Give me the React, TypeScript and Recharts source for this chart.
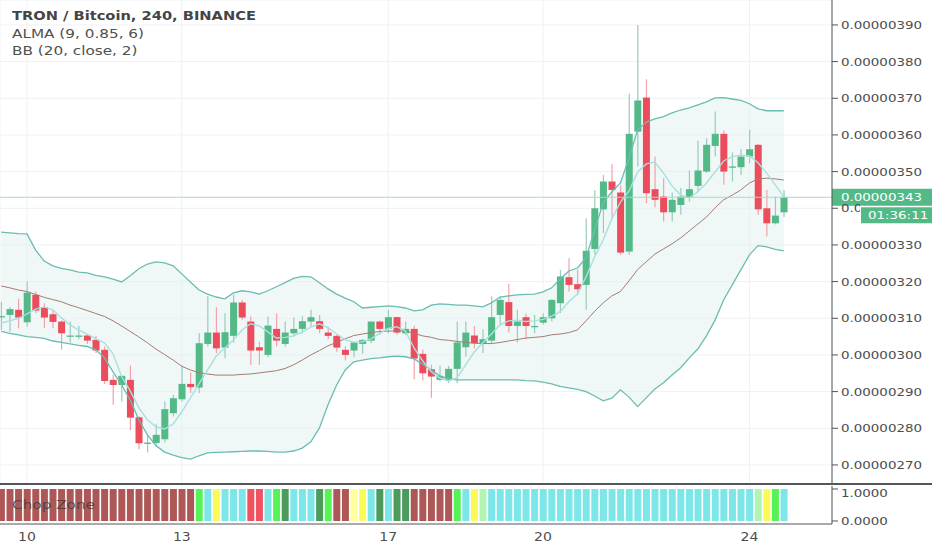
import React from 'react';
import { ComposedChart, Bar, Line, Area, XAxis, YAxis, CartesianGrid, ReferenceLine, Cell } from 'recharts';

// TRX/BTC 4h candles, prices in 1e-8 BTC (satoshi), first visible candle .. last
const opens = [
  310.4, 310.9, 312.3, 308.9, 316.4, 313.0, 311.1, 309.1, 305.3, 305.3, 305.3, 304.1,
  301.4, 293.2, 291.8, 293.2, 283.0, 276.1, 276.0, 277.0, 284.1, 287.9, 292.1, 291.1,
  303.0, 306.1, 302.0, 305.2, 314.3, 309.1, 302.1, 300.0, 307.1, 303.0, 305.9, 307.1,
  309.1, 309.2, 306.1, 305.2, 301.4, 301.2, 303.0, 303.9, 309.1, 307.1, 310.3, 305.9,
  307.1, 300.3, 296.1, 293.2, 293.2, 296.2, 302.1, 305.3, 303.2, 303.9, 310.9, 314.4,
  307.9, 310.3, 307.9, 308.8, 310.0, 314.1, 321.2, 319.3, 319.1, 328.9, 339.7, 347.3,
  344.3, 328.2, 360.9, 370.2, 345.2, 343.2, 338.9, 340.9, 343.0, 346.1, 350.0, 357.0,
  360.3, 351.4, 351.2, 354.1, 357.3, 340.0, 335.9, 338.9,
];
const highs = [
  314.5, 313.1, 315.3, 320.0, 317.3, 314.1, 312.1, 309.4, 309.1, 307.9, 305.7, 305.2,
  302.3, 294.6, 294.3, 297.1, 283.3, 278.2, 281.2, 287.3, 289.1, 297.1, 295.2, 305.9,
  316.0, 313.0, 311.4, 316.4, 315.0, 310.5, 303.6, 310.5, 311.4, 309.1, 310.3, 310.6,
  312.3, 310.9, 307.7, 305.5, 302.3, 303.4, 304.3, 309.1, 309.4, 312.3, 310.5, 309.1,
  308.0, 301.4, 297.3, 297.1, 297.0, 309.1, 309.1, 307.9, 307.0, 316.0, 315.9, 319.4,
  312.3, 311.2, 310.9, 311.4, 315.2, 323.2, 326.4, 323.2, 337.3, 345.0, 349.1, 352.1,
  346.2, 371.2, 390.0, 375.2, 354.1, 348.2, 344.3, 345.5, 350.3, 358.4, 359.1, 366.4,
  361.2, 355.2, 356.1, 361.4, 357.6, 345.0, 343.2, 345.0,
];
const lows = [
  306.8, 306.3, 307.3, 307.7, 311.4, 307.3, 307.3, 301.4, 303.4, 304.3, 303.0, 300.5,
  292.1, 286.4, 287.3, 279.4, 274.3, 273.4, 275.0, 276.1, 283.2, 287.3, 289.6, 289.6,
  302.3, 300.5, 299.1, 303.4, 309.6, 297.3, 297.3, 299.4, 302.3, 302.3, 305.0, 305.9,
  307.7, 305.9, 304.3, 300.9, 298.5, 299.4, 300.3, 303.2, 305.5, 305.9, 305.5, 305.5,
  293.4, 293.0, 288.3, 292.8, 292.3, 292.3, 299.5, 301.8, 300.5, 303.0, 308.2, 306.1,
  303.4, 304.3, 305.9, 308.2, 309.1, 311.4, 317.3, 316.4, 312.3, 327.3, 333.2, 337.3,
  327.3, 327.3, 351.4, 341.4, 340.3, 336.4, 336.4, 338.2, 341.8, 344.5, 349.6, 354.1,
  346.4, 347.3, 349.1, 352.3, 338.2, 332.3, 335.6, 337.6,
];
const closes = [
  310.6, 312.5, 310.2, 317.0, 312.1, 310.2, 309.0, 305.9, 305.3, 305.3, 303.9, 301.2,
  292.9, 291.8, 294.3, 282.9, 275.9, 276.1, 278.2, 285.2, 288.2, 292.1, 291.2, 303.2,
  306.1, 301.8, 306.2, 314.3, 310.2, 301.2, 301.2, 308.0, 303.9, 306.1, 307.1, 309.2,
  310.3, 307.1, 305.2, 302.0, 300.0, 303.4, 304.1, 309.1, 307.1, 310.3, 306.1, 307.1,
  299.0, 295.0, 294.1, 294.3, 296.2, 303.4, 306.1, 303.2, 304.3, 310.3, 315.0, 307.9,
  309.1, 307.9, 307.9, 310.3, 315.0, 321.4, 319.1, 317.9, 328.4, 340.0, 347.3, 345.0,
  327.9, 360.3, 369.4, 344.1, 342.3, 338.9, 342.3, 343.2, 345.2, 350.3, 357.3, 360.3,
  350.0, 351.4, 354.1, 356.1, 339.7, 335.9, 338.0, 343.0,
];

// BB (20, close, 2) and ALMA (9, 0.85, 6)
const bbUpper = [
  333.5, 333.3, 333.1, 333.0, 328.6, 325.6, 324.3, 323.6, 323.2, 322.6, 322.4, 321.7,
  321.3, 320.7, 319.9, 321.6, 323.5, 324.8, 325.4, 325.1, 324.3, 322.1, 319.9, 317.7,
  316.6, 315.8, 315.3, 316.9, 317.5, 317.2, 316.6, 317.5, 318.6, 319.7, 320.9, 321.4,
  321.3, 319.7, 318.0, 316.6, 315.5, 314.5, 312.8, 313.0, 313.2, 313.4, 313.2, 312.8,
  312.0, 312.3, 313.6, 313.9, 313.8, 313.6, 313.6, 313.4, 313.1, 314.2, 315.8, 316.1,
  316.4, 316.5, 316.6, 317.2, 318.3, 320.7, 322.9, 323.7, 326.5, 334.1, 341.5, 344.5,
  346.9, 353.7, 361.4, 363.5, 364.4, 365.0, 366.0, 366.8, 367.4, 368.2, 369.0, 370.1,
  370.2, 369.8, 369.4, 368.5, 367.1, 366.6, 366.6, 366.6,
];
const bbBasis = [
  318.8, 318.3, 317.7, 317.3, 316.5, 315.7, 315.1, 314.5, 313.6, 312.9, 312.1, 311.3,
  310.5, 309.3, 307.9, 306.4, 304.9, 303.3, 301.6, 300.1, 298.6, 296.9, 295.9, 295.2,
  294.8, 294.5, 294.5, 294.5, 294.7, 294.8, 295.1, 295.4, 295.7, 296.3, 297.3, 298.6,
  300.0, 301.2, 302.5, 303.4, 304.4, 305.3, 305.7, 306.1, 306.4, 306.5, 306.6, 306.5,
  305.9, 305.2, 304.8, 304.2, 304.0, 303.7, 303.4, 303.2, 303.1, 303.1, 303.4, 303.8,
  304.2, 304.6, 304.8, 305.0, 305.5, 305.7, 306.1, 306.8, 309.3, 311.9, 314.2, 316.1,
  317.3, 320.2, 323.3, 325.4, 327.5, 328.9, 330.3, 331.9, 333.8, 335.7, 337.6, 340.1,
  342.3, 343.6, 345.0, 346.9, 348.0, 348.2, 348.0, 347.7,
];
const bbLower = [
  306.4, 305.9, 305.5, 305.0, 304.8, 304.5, 303.8, 303.4, 303.0, 302.6, 302.3, 301.4,
  299.2, 295.4, 291.8, 287.7, 282.3, 278.2, 275.2, 273.5, 272.7, 272.0, 271.6, 272.5,
  273.3, 273.4, 273.5, 273.6, 273.7, 273.8, 273.8, 273.7, 273.5, 273.5, 273.8, 274.6,
  276.3, 280.1, 286.4, 291.8, 295.9, 298.1, 298.6, 299.0, 299.2, 299.5, 299.7, 299.5,
  298.9, 297.5, 295.9, 294.3, 293.5, 293.2, 293.2, 293.2, 293.2, 293.2, 293.2, 293.2,
  293.2, 293.0, 292.9, 292.6, 292.1, 291.4, 291.0, 290.6, 290.0, 288.8, 287.5, 288.2,
  290.5, 288.5, 285.9, 288.3, 290.7, 292.4, 294.5, 296.5, 299.2, 301.6, 305.2, 309.5,
  315.0, 319.1, 323.2, 327.3, 329.8, 329.5, 328.8, 328.4,
];
const alma = [
  308.7, 309.3, 310.0, 311.2, 312.5, 313.1, 312.3, 310.1, 308.2, 306.8, 305.7, 304.4,
  303.3, 300.3, 294.1, 290.2, 285.6, 282.3, 280.4, 279.8, 281.2, 284.5, 288.3, 292.1,
  295.9, 299.7, 301.9, 304.1, 306.8, 308.5, 307.9, 306.3, 304.6, 304.8, 305.2, 306.3,
  307.6, 308.5, 307.4, 305.7, 304.1, 303.5, 303.6, 304.4, 305.9, 307.2, 307.7, 306.5,
  301.9, 298.4, 295.4, 293.7, 292.9, 293.7, 297.3, 300.8, 303.3, 305.7, 308.2, 309.3,
  309.5, 309.1, 309.3, 309.7, 310.6, 311.8, 314.5, 316.6, 321.3, 326.7, 331.4, 337.1,
  341.7, 344.7, 349.9, 352.1, 352.6, 349.6, 346.1, 343.6, 342.8, 344.5, 346.9, 349.9,
  352.9, 354.1, 354.5, 354.3, 352.4, 349.6, 346.4, 343.1,
];

// Chop Zone colour per candle
const chopZone = [
  ...'MMMMMMMMMMMMMMMMMMMMMMM',
  ...'LCYCCCRRCLDCCCDLMMWYCDCDD',
  ...'MMMMMLCYP',
  ...'CCCCCCCCCCCCCCCCCCCCCCCCCCCCCCC',
  ...'PYLC',
];
const chopColors: Record<string, string> = {
  M: '#ad5757', L: '#55f355', C: '#7de6e8', Y: '#fbfb57',
  R: '#ef5260', D: '#4d9a5d', W: '#ffff9c', P: '#b2f5b2',
};

const priceTicks = [270, 280, 290, 300, 310, 320, 330, 340, 350, 360, 370, 380, 390];
const coveredTick = 340; // sits under the countdown tag
const dayTicks = [3, 21, 45, 63, 87];
const dayLabels = ['10', '13', '17', '20', '24'];
const lastPrice = 343;
const countdown = '01:36:11';

const rows = opens.map((open, i) => ({
  i,
  open,
  high: highs[i],
  low: lows[i],
  close: closes[i],
  range: [lows[i], highs[i]],
  band: [bbLower[i], bbUpper[i]],
  upper: bbUpper[i],
  lower: bbLower[i],
  basis: bbBasis[i],
  alma: alma[i],
  chop: 1,
  zone: chopZone[i],
}));

const FONT = '"DejaVu Sans", sans-serif';
const STRETCH = 1.22;
const X_DOMAIN = [-0.14, 96.6];
const fmtPrice = (v: number) => (v / 1e8).toFixed(8);

function Candle(props: any) {
  const { x, y, width, height, payload } = props;
  if (!payload || height == null) return null;
  const { open, close, high, low } = payload;
  const up = close >= open;
  const span = high - low || 1;
  const px = (v: number) => y + ((high - v) / span) * height;
  const top = px(Math.max(open, close));
  const bot = px(Math.min(open, close));
  const cx = x + width / 2;
  return (
    <g>
      <line x1={cx} x2={cx} y1={y} y2={y + height} stroke={up ? '#98ccbb' : '#f2a2aa'} strokeWidth={1.2} />
      <rect x={x} y={top} width={width} height={Math.max(bot - top, 1.3)} fill={up ? '#53b987' : '#eb4d5c'} />
    </g>
  );
}

function PriceTick({ x, y, payload }: any) {
  const covered = payload.value === coveredTick;
  return (
    <g transform={`translate(${x},${y}) scale(${STRETCH},1)`}>
      {covered && (
        <defs>
          <clipPath id="covered-tick">
            <rect x={-2} y={-10} width={17.5} height={20} />
          </clipPath>
        </defs>
      )}
      <text
        x={0}
        y={0}
        dy="0.355em"
        textAnchor="start"
        fontSize={11}
        fill="#4d4d4d"
        fontFamily={FONT}
        clipPath={covered ? 'url(#covered-tick)' : undefined}
      >
        {fmtPrice(payload.value)}
      </text>
    </g>
  );
}

function ChopTick({ x, y, payload }: any) {
  return (
    <g transform={`translate(${x},${y}) scale(${STRETCH},1)`}>
      <text x={0} y={0} dy="0.355em" textAnchor="start" fontSize={11} fill="#4d4d4d" fontFamily={FONT}>
        {Number(payload.value).toFixed(4)}
      </text>
    </g>
  );
}

function DayTick({ x, y, payload }: any) {
  const idx = dayTicks.indexOf(payload.value);
  return (
    <g transform={`translate(${x},${y}) scale(${STRETCH},1)`}>
      <text x={0} y={0} dy="0.71em" textAnchor="middle" fontSize={11.5} fill="#4d4d4d" fontFamily={FONT}>
        {dayLabels[idx] ?? ''}
      </text>
    </g>
  );
}

function PriceTag(props: any) {
  const vb = props.viewBox;
  if (!vb) return null;
  const left = vb.x + vb.width;
  const cy = vb.y;
  return (
    <g>
      <rect x={left} y={cy - 8.5} width={100} height={17} fill="#53b987" />
      <g transform={`translate(${left + 9},${cy}) scale(${STRETCH},1)`}>
        <text x={0} y={0} dy="0.355em" fontSize={11} fill="#ffffff" fontFamily={FONT}>
          {fmtPrice(lastPrice)}
        </text>
      </g>
      <rect x={left + 29} y={cy + 10} width={71} height={16} fill="#53b987" />
      <g transform={`translate(${left + 36},${cy + 18}) scale(${STRETCH},1)`}>
        <text x={0} y={0} dy="0.355em" fontSize={11} fill="#ffffff" fontFamily={FONT}>
          {countdown}
        </text>
      </g>
    </g>
  );
}

const legendLine = (top: number, bold: boolean): React.CSSProperties => ({
  position: 'absolute',
  left: 12,
  top,
  fontFamily: FONT,
  fontSize: bold ? 12 : 12.5,
  fontWeight: bold ? 700 : 400,
  lineHeight: '16px',
  color: bold ? '#444' : '#505050',
  transform: `scaleX(${STRETCH})`,
  transformOrigin: 'left center',
  whiteSpace: 'nowrap',
});

export default function App() {
  return (
    <div style={{ position: 'relative', width: 932, height: 550, background: '#fff', overflow: 'hidden' }}>
      <style>{'body{margin:0}'}</style>
      <div style={{ position: 'absolute', left: 0, top: 0 }}>
        <ComposedChart width={932} height={484} data={rows} margin={{ top: 0, right: 0, bottom: 0, left: 0 }}>
          <CartesianGrid stroke="#edf1f5" vertical horizontal />
          <XAxis dataKey="i" type="number" domain={X_DOMAIN} ticks={dayTicks} hide />
          <YAxis
            orientation="right"
            width={100}
            domain={[264.8, 396.8]}
            ticks={priceTicks}
            allowDataOverflow
            axisLine={{ stroke: '#555' }}
            tickLine={{ stroke: '#555' }}
            tickSize={6}
            tickMargin={3}
            tick={<PriceTick />}
          />
          <Area dataKey="band" stroke="none" fill="#e3f1f1" fillOpacity={0.55} dot={false} activeDot={false} isAnimationActive={false} />
          <Bar dataKey="range" barSize={7} shape={(p: any) => <Candle {...p} />} isAnimationActive={false} />
          <Line dataKey="upper" stroke="#6bbcb2" strokeWidth={1.3} dot={false} activeDot={false} isAnimationActive={false} />
          <Line dataKey="lower" stroke="#6bbcb2" strokeWidth={1.3} dot={false} activeDot={false} isAnimationActive={false} />
          <Line dataKey="basis" stroke="#a47c74" strokeWidth={1} dot={false} activeDot={false} isAnimationActive={false} />
          <Line dataKey="alma" stroke="#a7e0de" strokeWidth={1.4} dot={false} activeDot={false} isAnimationActive={false} />
          <ReferenceLine y={lastPrice} stroke="#a9d8cb" strokeWidth={1} label={<PriceTag />} />
        </ComposedChart>
      </div>
      <div style={{ position: 'absolute', left: 0, top: 483, width: 932, height: 1.5, background: '#555' }} />
      <div style={{ position: 'absolute', left: 0, top: 484 }}>
        <ComposedChart width={932} height={66} data={rows} margin={{ top: 2, right: 0, bottom: 0, left: 0 }}>
          <CartesianGrid stroke="#edf1f5" vertical horizontal={false} />
          <XAxis
            dataKey="i"
            type="number"
            domain={X_DOMAIN}
            ticks={dayTicks}
            height={26}
            axisLine={{ stroke: '#555' }}
            tickLine={false}
            tickSize={6}
            tickMargin={3}
            tick={<DayTick />}
          />
          <YAxis
            orientation="right"
            width={100}
            domain={[-0.094, 1.094]}
            ticks={[0, 1]}
            allowDataOverflow
            axisLine={{ stroke: '#555' }}
            tickLine={{ stroke: '#555' }}
            tickSize={6}
            tickMargin={3}
            tick={<ChopTick />}
          />
          <Bar dataKey="chop" barSize={7} isAnimationActive={false}>
            {rows.map((r) => (
              <Cell key={r.i} fill={chopColors[r.zone]} />
            ))}
          </Bar>
        </ComposedChart>
      </div>
      <div style={legendLine(8, true)}>TRON / Bitcoin, 240, BINANCE</div>
      <div style={legendLine(26, false)}>ALMA (9, 0.85, 6)</div>
      <div style={legendLine(43, false)}>BB (20, close, 2)</div>
      <div
        style={{
          position: 'absolute',
          left: 12,
          top: 497,
          fontFamily: FONT,
          fontSize: 12.5,
          lineHeight: '16px',
          color: 'rgba(60,60,60,0.8)',
          transform: `scaleX(${STRETCH})`,
          transformOrigin: 'left center',
        }}
      >
        Chop Zone
      </div>
    </div>
  );
}
